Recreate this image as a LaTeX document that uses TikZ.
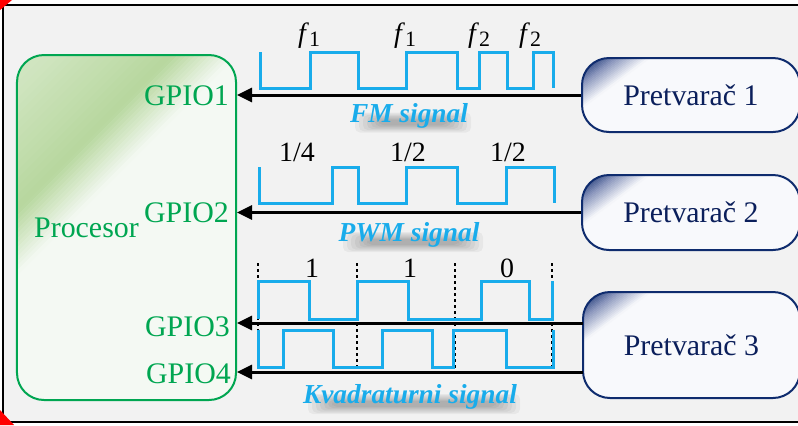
\documentclass[tikz,border=0pt]{standalone}
\usepackage{fontspec}
\setmainfont{Liberation Serif}
\usetikzlibrary{arrows.meta}
\definecolor{bggray}{HTML}{F2F2F2}
\definecolor{sigblue}{HTML}{19ACEB}
\definecolor{procgreen}{HTML}{00A651}
\definecolor{gA}{HTML}{D0E5C0}
\definecolor{gB}{HTML}{B7D79E}
\definecolor{gC}{HTML}{F4F9F3}
\definecolor{navy}{HTML}{0F2C6E}
\definecolor{navytext}{HTML}{0B1F5B}
\definecolor{nA}{HTML}{1F3877}
\definecolor{nM}{HTML}{8A96BC}
\definecolor{nB}{HTML}{F8F9FC}

% strips bounded by lines x + k*y = c, colour mixed from #3 to #4
\newcommand\diagband[6]{%
  \foreach \dsI in {1,...,#5}{%
    \pgfmathsetmacro\dsA{(#1)+((#2)-(#1))*(\dsI-1)/(#5)}%
    \pgfmathsetmacro\dsB{(#1)+((#2)-(#1))*\dsI/(#5)+0.6}%
    \pgfmathsetmacro\dsP{100*(\dsI-0.5)/(#5)}%
    \fill[#4!\dsP!#3] (\dsA,0) -- (\dsB,0) -- (\dsB-900*#6,900) -- (\dsA-900*#6,900) -- cycle;%
  }}

\newcommand\pshade[4]{%
  \begin{scope}
    \clip[rounded corners=27bp] (#1,#2) rectangle (#3,#4);
    \fill[nB] (#1-5,#2-5) rectangle (#3+5,#4+5);
    \pgfmathsetmacro\psC{#1+1.35*#2}
    \diagband{\psC-60}{\psC+10}{nA}{nA}{1}{1.35}
    \diagband{\psC+10}{\psC+35}{nA}{nM}{10}{1.35}
    \diagband{\psC+35}{\psC+68}{nM}{nB}{12}{1.35}
  \end{scope}}

\tikzset{
  sig/.style={draw=sigblue, line width=3bp},
  conn/.style={draw=black, line width=3bp, -{Triangle[length=15bp,width=14bp]}},
  tickline/.style={draw=black, line width=2bp, dash pattern=on 3bp off 3bp},
  procbox/.style={draw=procgreen, line width=2bp, rounded corners=27bp,
    minimum width=219bp, minimum height=345bp, inner sep=0},
  pbox/.style={draw=navy, line width=2bp, rounded corners=27bp, minimum width=218bp,
    inner sep=0, text=navytext, font=\fontsize{30}{36}\selectfont},
  gpio/.style={text=procgreen, font=\fontsize{30}{36}\selectfont, inner sep=0, anchor=east},
  proclab/.style={text=procgreen, font=\fontsize{30}{36}\selectfont, inner sep=0},
  siglab/.style={font=\fontsize{27.5}{33}\selectfont\bfseries\itshape, inner sep=0, text=sigblue},
  vallab/.style={font=\fontsize{28}{34}\selectfont, inner sep=0},
  shadowband/.style={fill=black, opacity=0.045, rounded corners=5bp},
}

% soft shadow band (not text) behind a signal name, then the name
\newcommand\shadowtext[4]{%
  \foreach \si in {0,...,6}{%
    \fill[shadowband] ([shift={(4-#4+\si*4,7-10+\si*1.2)}]#2) rectangle ([shift={(4+#4-\si*4,7+10-\si*1.2)}]#2);}%
  \node[siglab] (#1) at (#2) {#3};}

\begin{document}
\begin{tikzpicture}[x=1bp,y=-1bp]
\useasboundingbox (0,0) rectangle (798,425);
\draw[line width=2bp, fill=bggray] (3,5) rectangle (805,422);

% Procesor box with gradient
\begin{scope}
  \clip[rounded corners=27bp] (17,55) rectangle (236,400);
  \fill[gC] (0,0) rectangle (300,450);
  \diagband{0}{100}{gA}{gA}{1}{1}
  \diagband{100}{228}{gA}{gB}{16}{1}
  \diagband{228}{292}{gB}{gC}{14}{1}
\end{scope}
\node[procbox] (proc) at (126.5,227.5) {};
\node[proclab] (plabel) at (86.5,227.5) {Procesor};
\node[gpio] (g1) at (229,95.5) {GPIO1};
\node[gpio] (g2) at (229,212.5) {GPIO2};
\node[gpio] (g3) at (230,327) {GPIO3};
\node[gpio] (g4) at (231,374) {GPIO4};

% Pretvarac boxes
\pshade{582}{58}{800}{132}
\pshade{582}{175}{800}{250}
\pshade{583}{292}{800}{398}
\node[pbox, minimum height=74bp] (p1) at (691,95) {Pretvarač 1};
\node[pbox, minimum height=75bp] (p2) at (691,212.5) {Pretvarač 2};
\node[pbox, minimum width=217bp, minimum height=106bp] (p3) at (691.5,345) {Pretvarač 3};

% dashed bit boundaries
\draw[tickline] (258,263) -- (258,368);
\draw[tickline] (357,263) -- (357,368);
\draw[tickline] (455,263) -- (455,368);
\draw[tickline] (552,263) -- (552,368);

% signals
\draw[sig] (260,52) -- (260,88) -- (310,88) -- (310,52) -- (358,52) -- (358,88) -- (406,88) -- (406,52) -- (457,52) -- (457,88) -- (479,88) -- (479,52) -- (507,52) -- (507,88) -- (533,88) -- (533,52) -- (553,52) -- (553,88);
\draw[sig] (259,167) -- (259,203) -- (332,203) -- (332,167) -- (358,167) -- (358,203) -- (406,203) -- (406,167) -- (457,167) -- (457,203) -- (506,203) -- (506,167) -- (554,167) -- (554,203);
\draw[sig] (258,319) -- (258,281) -- (309,281) -- (309,319) -- (357,319) -- (357,281) -- (408,281) -- (408,319) -- (481,319) -- (481,281) -- (529,281) -- (529,319) -- (552,319) -- (552,281);
\draw[sig] (258,330) -- (258,367) -- (283,367) -- (283,330) -- (333,330) -- (333,367) -- (382,367) -- (382,330) -- (432,330) -- (432,367) -- (453,367) -- (453,330) -- (506,330) -- (506,367) -- (553,367) -- (553,330);

% connectors
\coordinate (s3) at (583,323);
\coordinate (s4) at (583,372);
\draw[conn] (p1.west) -- (proc.east |- p1.west);
\draw[conn] (p2.west) -- (proc.east |- p2.west);
\draw[conn] (s3) -- (proc.east |- s3);
\draw[conn] (s4) -- (proc.east |- s4);

% value labels
\node[vallab] (fa) at (309,36) {\textit{f}\raisebox{-4bp}{\fontsize{22}{22}\selectfont 1}};
\node[vallab] (fb) at (405,36) {\textit{f}\raisebox{-4bp}{\fontsize{22}{22}\selectfont 1}};
\node[vallab] (fc) at (479,36) {\textit{f}\raisebox{-4bp}{\fontsize{22}{22}\selectfont 2}};
\node[vallab] (fd) at (530,36) {\textit{f}\raisebox{-4bp}{\fontsize{22}{22}\selectfont 2}};
\node[vallab] (q1) at (297,152) {1/4};
\node[vallab] (q2) at (408,152) {1/2};
\node[vallab] (q3) at (508,152) {1/2};
\node[vallab] (b1) at (312,268) {1};
\node[vallab] (b2) at (410,268) {1};
\node[vallab] (b3) at (507,268) {0};

% signal names
\shadowtext{fm}{409,115.5}{FM signal}{58}
\shadowtext{pwm}{409,235}{PWM signal}{70}
\shadowtext{kv}{410,397}{Kvadraturni signal}{106}

% red corner marks
\fill[red] (0,0) -- (12,0) -- (0,10) -- cycle;
\fill[red] (0,410) -- (14,425) -- (0,425) -- cycle;
\end{tikzpicture}
\end{document}
